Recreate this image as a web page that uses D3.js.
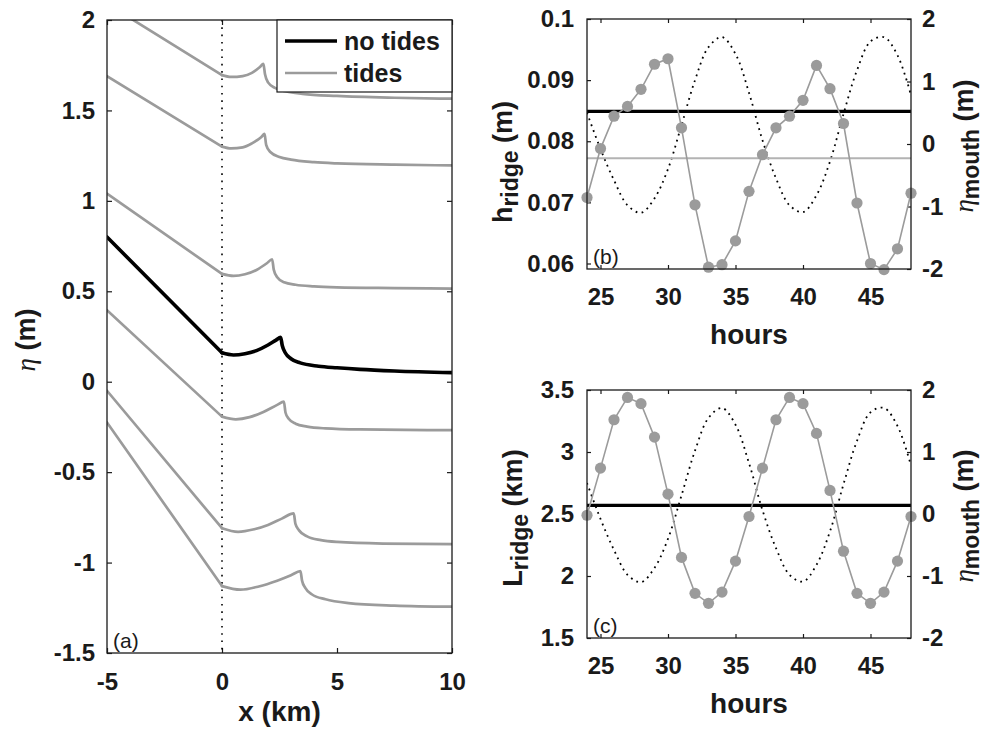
<!DOCTYPE html>
<html><head><meta charset="utf-8">
<script src="https://cdn.jsdelivr.net/npm/d3@7"></script>
<style>
body{margin:0;background:#fff}
svg text{font-family:"Liberation Sans",Arial,Helvetica,sans-serif}
</style>
</head><body>
<svg id="fig" width="1000" height="736"></svg>
<script>
// ---------------- DATA ----------------
// Panel (a): water-surface profiles eta(x), [x km, eta m]
const xTicksA = [-5, 0, 5, 10];
const yTicksA = [-1.5, -1, -0.5, 0, 0.5, 1, 1.5, 2];
const noTidesProfile = [[-5,0.80],[0,0.160],[0.5,0.148],[1.0,0.155],[1.5,0.172],[2.0,0.203],[2.35,0.230],[2.55,0.245],[2.62,0.200],[2.75,0.160],[3.0,0.127],[3.4,0.104],[4.2,0.086],[5,0.077],[6,0.068],[7.5,0.059],[10,0.050]];
const tidesProfile1 = [[-5,2.09],[0,1.695],[0.4,1.685],[0.9,1.690],[1.3,1.708],[1.65,1.740],[1.80,1.757],[1.87,1.700],[2.0,1.655],[2.3,1.625],[2.8,1.605],[3.5,1.592],[5,1.580],[7.5,1.570],[10,1.565]];
const tidesProfile2 = [[-5,1.69],[0,1.300],[0.4,1.290],[0.9,1.296],[1.3,1.318],[1.7,1.352],[1.85,1.370],[1.92,1.310],[2.1,1.270],[2.5,1.243],[3.0,1.228],[4,1.214],[5,1.207],[7.5,1.200],[10,1.196]];
const tidesProfile3 = [[-5,1.04],[0,0.596],[0.5,0.585],[1.0,0.594],[1.5,0.618],[1.95,0.655],[2.18,0.677],[2.25,0.620],[2.4,0.578],[2.7,0.550],[3.2,0.536],[4,0.527],[5,0.522],[7.5,0.518],[10,0.515]];
const tidesProfile4 = [[-5,0.395],[0,-0.193],[0.6,-0.208],[1.2,-0.196],[1.8,-0.167],[2.4,-0.128],[2.69,-0.110],[2.76,-0.170],[2.9,-0.205],[3.2,-0.232],[3.7,-0.248],[4.5,-0.258],[6,-0.264],[10,-0.268]];
const tidesProfile5 = [[-5,-0.05],[0,-0.810],[0.7,-0.830],[1.4,-0.816],[2.0,-0.792],[2.6,-0.757],[3.12,-0.728],[3.19,-0.785],[3.35,-0.822],[3.7,-0.855],[4.3,-0.876],[5,-0.886],[7,-0.895],[10,-0.898]];
const tidesProfile6 = [[-5,-0.225],[0,-1.130],[0.8,-1.150],[1.6,-1.132],[2.4,-1.100],[3.0,-1.070],[3.41,-1.047],[3.48,-1.100],[3.62,-1.140],[3.9,-1.175],[4.5,-1.203],[5.5,-1.224],[7.5,-1.238],[10,-1.244]];
const tidesProfiles = [tidesProfile1, tidesProfile2, tidesProfile3, tidesProfile4, tidesProfile5, tidesProfile6];
const legendLabels = ["no tides", "tides"];

// Panels (b),(c): time series
const hours = [24,25,26,27,28,29,30,31,32,33,34,35,36,37,38,39,40,41,42,43,44,45,46,47,48];
const hourTicks = [25, 30, 35, 40, 45];
const hRidge = [0.0708,0.0788,0.0841,0.0857,0.0885,0.0926,0.0935,0.0822,0.0696,0.0594,0.0598,0.0637,0.0718,0.0778,0.0822,0.0841,0.0867,0.0924,0.0886,0.0829,0.0699,0.0600,0.0590,0.0624,0.0715];
const hRidgeNoTides = 0.0849;
const hRidgeTideMean = 0.0772;
const hTicks = [0.06, 0.07, 0.08, 0.09, 0.1];
const lRidge = [2.49,2.87,3.26,3.44,3.39,3.12,2.66,2.15,1.86,1.78,1.87,2.12,2.48,2.87,3.26,3.44,3.39,3.15,2.69,2.20,1.86,1.78,1.87,2.12,2.48];
const lRidgeNoTides = 2.57;
const lTicks = [1.5, 2, 2.5, 3, 3.5];
const etaMouth = [0.50,-0.08,-0.58,-0.98,-1.10,-0.87,-0.40,0.30,1.02,1.55,1.71,1.44,0.82,0.06,-0.55,-0.98,-1.09,-0.82,-0.28,0.48,1.18,1.64,1.71,1.42,0.78];
const etaTicks = [-2, -1, 0, 1, 2];

// ---------------- DRAWING ----------------
const svg = d3.select("#fig");
const GRAY = "#9b9b9b", INK = "#1a1a1a";
const TICK_FS = 24, LABEL_FS = 28, YLABEL_FS = 27, SUB_FS = 23;
const fmt = d => String(d);

function styleAxis(g){
  g.select(".domain").remove();
  g.selectAll(".tick line").attr("stroke", INK).attr("stroke-width", 1.2);
  g.selectAll(".tick text").attr("fill", INK).attr("font-size", TICK_FS).attr("font-weight", "bold").attr("font-family", '"Liberation Sans",Arial,sans-serif');
}

function panelFrame(left, top, w, h, x, yl, tl, yTicksLeft, xTicks, opts){
  const g = svg.append("g").attr("transform", `translate(${left},${top})`);
  const ax = g.append("g").attr("transform", `translate(0,${h})`)
    .call(d3.axisBottom(x).tickValues(xTicks).tickFormat(fmt).tickSizeInner(-tl).tickSizeOuter(0).tickPadding(opts.xpad));
  styleAxis(ax);
  const axTop = g.append("g").call(d3.axisTop(x).tickValues(xTicks).tickFormat("").tickSizeInner(-tl).tickSizeOuter(0));
  styleAxis(axTop);
  const ay = g.append("g").call(d3.axisLeft(yl).tickValues(yTicksLeft).tickFormat(fmt).tickSizeInner(-tl).tickSizeOuter(0).tickPadding(opts.ypad));
  styleAxis(ay);
  return g;
}

// ---- Panel (a)
{
  const left = 107, top = 20, w = 345, h = 633;
  const x = d3.scaleLinear().domain([-5, 10]).range([0, w]);
  const y = d3.scaleLinear().domain([-1.5, 2]).range([h, 0]);
  const g = panelFrame(left, top, w, h, x, y, 5, yTicksA, xTicksA, {xpad: 20, ypad: 12});
  const ar = g.append("g").attr("transform", `translate(${w},0)`)
    .call(d3.axisRight(y).tickValues(yTicksA).tickFormat("").tickSizeInner(-5).tickSizeOuter(0));
  styleAxis(ar);

  g.append("clipPath").attr("id", "clipA").append("rect").attr("width", w).attr("height", h);
  const plot = g.append("g").attr("clip-path", "url(#clipA)");
  // straight seaward reach (first two points) + smooth landward profile (rest)
  const straight = d3.line().x(d => x(d[0])).y(d => y(d[1]));
  const smooth = d3.line().x(d => x(d[0])).y(d => y(d[1])).curve(d3.curveMonotoneX);
  const drawProfile = (p, color, sw) => {
    [straight(p.slice(0, 2)), smooth(p.slice(1))].forEach(dd =>
      plot.append("path").attr("d", dd).attr("fill", "none").attr("stroke", color)
        .attr("stroke-width", sw).attr("stroke-linejoin", "round").attr("stroke-linecap", "round"));
  };

  plot.append("line").attr("x1", x(0)).attr("x2", x(0)).attr("y1", 0).attr("y2", h)
    .attr("stroke", "#000").attr("stroke-width", 1.6).attr("stroke-dasharray", "1.6,5.7");
  tidesProfiles.forEach(p => drawProfile(p, GRAY, 2.7));
  drawProfile(noTidesProfile, "#000", 3.6);

  g.append("rect").attr("width", w).attr("height", h).attr("fill", "none").attr("stroke", INK).attr("stroke-width", 1.3);

  // legend
  const lg = g.append("g").attr("transform", `translate(${277 - left},${20 - top})`);
  lg.append("rect").attr("width", 175).attr("height", 72).attr("fill", "#fff").attr("stroke", INK).attr("stroke-width", 1.2);
  const rows = [{c: "#000", sw: 3.6, yy: 21}, {c: GRAY, sw: 2.7, yy: 53}];
  rows.forEach((r, i) => {
    lg.append("line").attr("x1", 8).attr("x2", 60).attr("y1", r.yy).attr("y2", r.yy).attr("stroke", r.c).attr("stroke-width", r.sw);
    lg.append("text").attr("x", 67).attr("y", r.yy + 9).attr("font-size", 25).attr("font-weight", "bold").attr("fill", INK).text(legendLabels[i]);
  });

  g.append("text").attr("x", 6).attr("y", h - 5).attr("font-size", 21).attr("fill", INK).text("(a)");
  g.append("text").attr("x", w / 2).attr("y", 721 - top).attr("text-anchor", "middle").attr("font-size", LABEL_FS).attr("font-weight", "bold").attr("fill", INK).text("x (km)");
  const yl = svg.append("text").attr("transform", `translate(35,340) rotate(-90)`).attr("text-anchor", "middle").attr("font-size", YLABEL_FS).attr("fill", INK);
  yl.append("tspan").attr("font-family", '"Liberation Serif",serif').attr("font-style", "italic").text("η");
  yl.append("tspan").attr("font-weight", "bold").text(" (m)");
}

// ---- Panels (b) and (c)
function timePanel(top, h, series, yDomain, yTicks, noTide, extraLine, tag, labelMain, labelUnit, labelX, labelY, rightY){
  const left = 587, w = 324;
  const x = d3.scaleLinear().domain([24, 48]).range([0, w]);
  const yl = d3.scaleLinear().domain(yDomain).range([h, 0]);
  const yr = d3.scaleLinear().domain([-2, 2]).range([h, 0]);
  const g = panelFrame(left, top, w, h, x, yl, 4, yTicks, hourTicks, {xpad: 19, ypad: 13});
  const ar = g.append("g").attr("transform", `translate(${w},0)`)
    .call(d3.axisRight(yr).tickValues(etaTicks).tickFormat(fmt).tickSizeInner(-4).tickSizeOuter(0).tickPadding(11));
  styleAxis(ar);

  const cid = "clip" + tag;
  g.append("clipPath").attr("id", cid).append("rect").attr("width", w).attr("height", h);
  const plot = g.append("g").attr("clip-path", `url(#${cid})`);

  const tideLine = d3.line().x((d, i) => x(hours[i])).y(d => yr(d)).curve(d3.curveCatmullRom);
  plot.append("path").attr("d", tideLine(etaMouth)).attr("fill", "none").attr("stroke", "#000")
    .attr("stroke-width", 1.8).attr("stroke-dasharray", "1.8,4.4");
  if (extraLine !== null) {
    plot.append("line").attr("x1", x(hours[0])).attr("x2", x(hours[hours.length - 1]))
      .attr("y1", yl(extraLine)).attr("y2", yl(extraLine)).attr("stroke", "#b3b3b3").attr("stroke-width", 2);
  }
  plot.append("line").attr("x1", x(hours[0])).attr("x2", x(hours[hours.length - 1]))
    .attr("y1", yl(noTide)).attr("y2", yl(noTide)).attr("stroke", "#000").attr("stroke-width", 3.2);
  const sLine = d3.line().x((d, i) => x(hours[i])).y(d => yl(d));
  g.append("path").attr("d", sLine(series)).attr("fill", "none").attr("stroke", GRAY).attr("stroke-width", 1.6);
  g.append("g").selectAll("circle").data(series).join("circle")
    .attr("cx", (d, i) => x(hours[i])).attr("cy", d => yl(d)).attr("r", 5.6).attr("fill", GRAY);

  g.append("rect").attr("width", w).attr("height", h).attr("fill", "none").attr("stroke", INK).attr("stroke-width", 1.3);
  g.append("text").attr("x", 6).attr("y", h - 5).attr("font-size", 21).attr("fill", INK).text("(" + tag + ")");
  g.append("text").attr("x", w / 2).attr("y", h + 75).attr("text-anchor", "middle").attr("font-size", LABEL_FS).attr("font-weight", "bold").attr("fill", INK).text("hours");

  const lt = svg.append("text").attr("transform", `translate(${labelX},${labelY}) rotate(-90)`).attr("text-anchor", "middle").attr("font-size", YLABEL_FS).attr("font-weight", "bold").attr("fill", INK);
  lt.append("tspan").text(labelMain);
  lt.append("tspan").attr("font-size", SUB_FS).attr("dy", 6).text("ridge");
  lt.append("tspan").attr("dy", -6).text(" " + labelUnit);

  const rt = svg.append("text").attr("transform", `translate(973,${rightY}) rotate(-90)`).attr("text-anchor", "middle").attr("font-size", YLABEL_FS).attr("font-weight", "bold").attr("fill", INK);
  rt.append("tspan").attr("font-family", '"Liberation Serif",serif').attr("font-style", "italic").attr("font-weight", "normal").text("η");
  rt.append("tspan").attr("font-size", SUB_FS).attr("dy", 6).text("mouth");
  rt.append("tspan").attr("dy", -6).text(" (m)");
}

timePanel(19, 250, hRidge, [0.0591, 0.1], hTicks, hRidgeNoTides, hRidgeTideMean, "b", "h", "(m)", 512, 162, 146);
timePanel(390, 248, lRidge, [1.5, 3.5], lTicks, lRidgeNoTides, null, "c", "L", "(km)", 522, 518, 516);
</script>
</body></html>
